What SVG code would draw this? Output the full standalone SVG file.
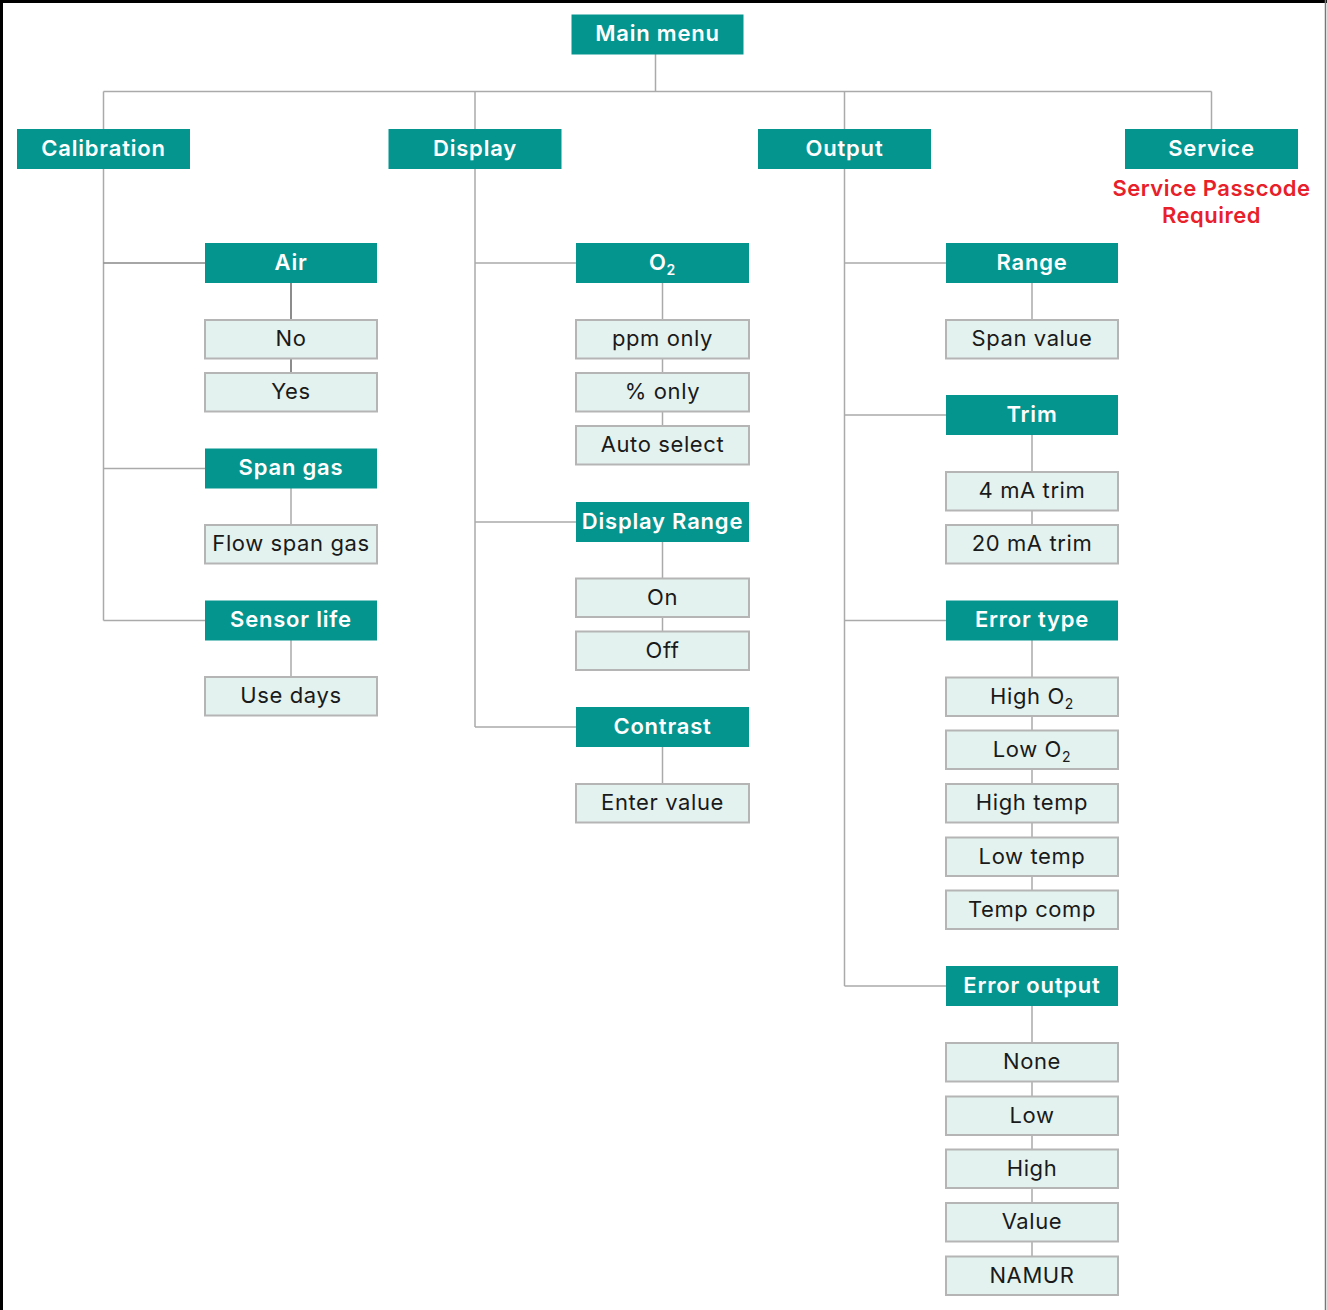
<svg xmlns="http://www.w3.org/2000/svg" width="1327" height="1310" viewBox="0 0 1327 1310">
<defs>
<style>
.h rect{fill:#05958f;}
.h text{fill:#ffffff;font-family:Inter,"Open Sans","Liberation Sans",sans-serif;font-weight:600;font-size:22px;letter-spacing:0.8px;text-anchor:middle;}
.l rect{fill:#e3f2ef;stroke:#b5b5b5;stroke-width:2;}
.l text{fill:#1a1a1a;font-family:Inter,"Open Sans","Liberation Sans",sans-serif;font-weight:400;font-size:22px;letter-spacing:0.6px;text-anchor:middle;}
.c line{stroke:#aaaaaa;stroke-width:1.5;}
.red{fill:#e8202a;font-family:Inter,"Open Sans","Liberation Sans",sans-serif;font-weight:600;font-size:22px;letter-spacing:0.5px;text-anchor:middle;}
.sub{font-size:14px;}
</style>
</defs>
<rect x="0" y="0" width="1327" height="1310" fill="#ffffff"/>
<line x1="1.5" y1="0" x2="1.5" y2="1310" stroke="#000" stroke-width="3"/>
<line x1="0" y1="1.5" x2="1327" y2="1.5" stroke="#000" stroke-width="3"/>
<line x1="1325.5" y1="0" x2="1325.5" y2="1310" stroke="#777" stroke-width="1.5"/>

<g id="connectors" class="c">
<line x1="655.5" y1="54" x2="655.5" y2="91.5"/>
<line x1="103.5" y1="91.5" x2="1211.5" y2="91.5"/>
<line x1="103.5" y1="91.5" x2="103.5" y2="129"/>
<line x1="475" y1="91.5" x2="475" y2="129"/>
<line x1="844.5" y1="91.5" x2="844.5" y2="129"/>
<line x1="1211.5" y1="91.5" x2="1211.5" y2="129"/>
<line x1="103.5" y1="169" x2="103.5" y2="620.5"/>
<line x1="103.5" y1="263" x2="205" y2="263" style="stroke:#888"/>
<line x1="103.5" y1="468.5" x2="205" y2="468.5"/>
<line x1="103.5" y1="620.5" x2="205" y2="620.5"/>
<line x1="291" y1="283" x2="291" y2="373" style="stroke:#666"/>
<line x1="291" y1="488" x2="291" y2="525"/>
<line x1="291" y1="640" x2="291" y2="677"/>
<line x1="475" y1="169" x2="475" y2="727"/>
<line x1="475" y1="263" x2="576" y2="263"/>
<line x1="475" y1="522" x2="576" y2="522"/>
<line x1="475" y1="727" x2="576" y2="727"/>
<line x1="662.5" y1="283" x2="662.5" y2="426"/>
<line x1="662.5" y1="541" x2="662.5" y2="631"/>
<line x1="662.5" y1="747" x2="662.5" y2="784"/>
<line x1="844.5" y1="169" x2="844.5" y2="986"/>
<line x1="844.5" y1="263" x2="946" y2="263"/>
<line x1="844.5" y1="415" x2="946" y2="415"/>
<line x1="844.5" y1="620.5" x2="946" y2="620.5"/>
<line x1="844.5" y1="986" x2="946" y2="986"/>
<line x1="1032" y1="283" x2="1032" y2="320"/>
<line x1="1032" y1="435" x2="1032" y2="525"/>
<line x1="1032" y1="640" x2="1032" y2="891"/>
<line x1="1032" y1="1006" x2="1032" y2="1257"/>
</g>

<g id="main-menu" class="h"><rect x="571.5" y="14.5" width="172" height="40"/><text x="657.5" y="41">Main menu</text></g>
<g id="calibration" class="h"><rect x="17" y="129" width="173" height="40"/><text x="103.5" y="155.5">Calibration</text></g>
<g id="display" class="h"><rect x="388.5" y="129" width="173" height="40"/><text x="475" y="155.5">Display</text></g>
<g id="output" class="h"><rect x="758" y="129" width="173" height="40"/><text x="844.5" y="155.5">Output</text></g>
<g id="service" class="h"><rect x="1125" y="129" width="173" height="40"/><text x="1211.5" y="155.5">Service</text></g>
<g id="service-note"><text class="red" x="1211.5" y="195.5">Service Passcode</text><text class="red" x="1211.5" y="222.5">Required</text></g>

<g id="air" class="h"><rect x="205" y="243" width="172" height="40"/><text x="291" y="269.5">Air</text></g>
<g id="no" class="l"><rect x="205" y="320" width="172" height="38.5"/><text x="291" y="346">No</text></g>
<g id="yes" class="l"><rect x="205" y="373" width="172" height="38.5"/><text x="291" y="399">Yes</text></g>
<g id="span-gas" class="h"><rect x="205" y="448.5" width="172" height="40"/><text x="291" y="475">Span gas</text></g>
<g id="flow-span-gas" class="l"><rect x="205" y="525" width="172" height="38.5"/><text x="291" y="551">Flow span gas</text></g>
<g id="sensor-life" class="h"><rect x="205" y="600.5" width="172" height="40"/><text x="291" y="627">Sensor life</text></g>
<g id="use-days" class="l"><rect x="205" y="677" width="172" height="38.5"/><text x="291" y="703">Use days</text></g>

<g id="o2" class="h"><rect x="576" y="243" width="173" height="40"/><text x="662.5" y="269.5">O<tspan class="sub" dy="5">2</tspan></text></g>
<g id="ppm-only" class="l"><rect x="576" y="320" width="173" height="38.5"/><text x="662.5" y="346">ppm only</text></g>
<g id="pct-only" class="l"><rect x="576" y="373" width="173" height="38.5"/><text x="662.5" y="399">% only</text></g>
<g id="auto-select" class="l"><rect x="576" y="426" width="173" height="38.5"/><text x="662.5" y="452">Auto select</text></g>
<g id="display-range" class="h"><rect x="576" y="502" width="173" height="40"/><text x="662.5" y="528.5">Display Range</text></g>
<g id="on" class="l"><rect x="576" y="578.5" width="173" height="38.5"/><text x="662.5" y="604.5">On</text></g>
<g id="off" class="l"><rect x="576" y="631.5" width="173" height="38.5"/><text x="662.5" y="657.5">Off</text></g>
<g id="contrast" class="h"><rect x="576" y="707" width="173" height="40"/><text x="662.5" y="733.5">Contrast</text></g>
<g id="enter-value" class="l"><rect x="576" y="784" width="173" height="38.5"/><text x="662.5" y="810">Enter value</text></g>

<g id="range" class="h"><rect x="946" y="243" width="172" height="40"/><text x="1032" y="269.5">Range</text></g>
<g id="span-value" class="l"><rect x="946" y="320" width="172" height="38.5"/><text x="1032" y="346">Span value</text></g>
<g id="trim" class="h"><rect x="946" y="395" width="172" height="40"/><text x="1032" y="421.5">Trim</text></g>
<g id="trim-4ma" class="l"><rect x="946" y="472" width="172" height="38.5"/><text x="1032" y="498">4 mA trim</text></g>
<g id="trim-20ma" class="l"><rect x="946" y="525" width="172" height="38.5"/><text x="1032" y="551">20 mA trim</text></g>
<g id="error-type" class="h"><rect x="946" y="600.5" width="172" height="40"/><text x="1032" y="627">Error type</text></g>
<g id="high-o2" class="l"><rect x="946" y="677.5" width="172" height="38.5"/><text x="1032" y="703.5">High O<tspan class="sub" dy="5">2</tspan></text></g>
<g id="low-o2" class="l"><rect x="946" y="730.5" width="172" height="38.5"/><text x="1032" y="756.5">Low O<tspan class="sub" dy="5">2</tspan></text></g>
<g id="high-temp" class="l"><rect x="946" y="784" width="172" height="38.5"/><text x="1032" y="810">High temp</text></g>
<g id="low-temp" class="l"><rect x="946" y="837.5" width="172" height="38.5"/><text x="1032" y="863.5">Low temp</text></g>
<g id="temp-comp" class="l"><rect x="946" y="890.5" width="172" height="38.5"/><text x="1032" y="916.5">Temp comp</text></g>
<g id="error-output" class="h"><rect x="946" y="966" width="172" height="40"/><text x="1032" y="992.5">Error output</text></g>
<g id="none" class="l"><rect x="946" y="1043" width="172" height="38.5"/><text x="1032" y="1069">None</text></g>
<g id="low" class="l"><rect x="946" y="1096.5" width="172" height="38.5"/><text x="1032" y="1122.5">Low</text></g>
<g id="high" class="l"><rect x="946" y="1149.5" width="172" height="38.5"/><text x="1032" y="1175.5">High</text></g>
<g id="value" class="l"><rect x="946" y="1203" width="172" height="38.5"/><text x="1032" y="1229">Value</text></g>
<g id="namur" class="l"><rect x="946" y="1256.5" width="172" height="38.5"/><text x="1032" y="1282.5">NAMUR</text></g>
</svg>
